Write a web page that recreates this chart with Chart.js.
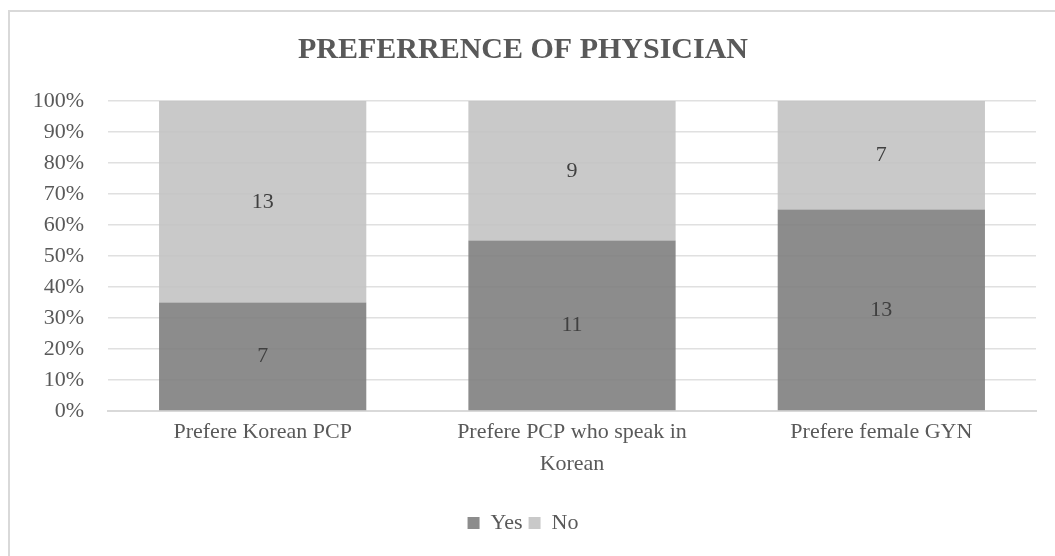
<!DOCTYPE html>
<html lang="en">
<head>
<meta charset="UTF-8">
<title>Preferrence of Physician</title>
<style>
    html, body { margin: 0; padding: 0; background: #fff; }
    #frame {
        position: absolute; left: 8px; top: 10px; width: 1047px; height: 546px;
        border-top: 2px solid #d9d9d9; border-left: 2px solid #d9d9d9;
        box-sizing: border-box;
    }
    #wrap { position: absolute; left: 10px; top: 12px; width: 1045px; height: 544px; }
</style>
</head>
<body>
<div id="frame"></div>
<div id="wrap"><canvas id="grafico"></canvas></div>

<script src="https://cdn.jsdelivr.net/npm/chart.js"></script>
<script>
const categorias = [["Prefere Korean PCP"], ["Prefere PCP who speak in", "Korean"], ["Prefere female GYN"]];
const sim = [7, 11, 13];
const nao = [13, 9, 7];
const ticksY = ["0%", "10%", "20%", "30%", "40%", "50%", "60%", "70%", "80%", "90%", "100%"];

const fonte = "'Liberation Serif', 'DejaVu Serif', serif";

// percentuais para barras 100% empilhadas
const totais = sim.map(function(v, i) { return v + nao[i]; });
const simPct = sim.map(function(v, i) { return v / totais[i] * 100; });
const naoPct = nao.map(function(v, i) { return v / totais[i] * 100; });

// escreve as contagens no meio de cada segmento
const rotulos = {
    id: 'rotulos',
    afterDatasetsDraw(chart) {
        const ctx = chart.ctx;
        const brutos = [sim, nao];
        ctx.save();
        ctx.font = "22px " + fonte;
        ctx.fillStyle = "#404040";
        ctx.textAlign = "center";
        ctx.textBaseline = "middle";
        chart.data.datasets.forEach(function(ds, d) {
            chart.getDatasetMeta(d).data.forEach(function(bar, i) {
                const meio = (bar.y + bar.base) / 2;
                ctx.fillText(String(brutos[d][i]), bar.x, meio);
            });
        });
        ctx.restore();
    }
};

new Chart(document.getElementById('grafico'), {
    type: 'bar',
    data: {
        labels: categorias,
        datasets: [
            {
                label: 'Yes',
                data: simPct,
                backgroundColor: 'rgba(128, 128, 128, 0.9)',
                categoryPercentage: 1,
                barPercentage: 0.67
            },
            {
                label: 'No',
                data: naoPct,
                backgroundColor: 'rgba(195, 195, 195, 0.9)',
                categoryPercentage: 1,
                barPercentage: 0.67
            }
        ]
    },
    options: {
        responsive: true,
        maintainAspectRatio: false,
        animation: false,
        layout: { padding: { left: 0, right: 19, top: 14, bottom: 12 } },
        plugins: {
            title: {
                display: true,
                text: 'PREFERRENCE OF PHYSICIAN',
                color: '#595959',
                font: { family: fonte, size: 30, weight: 'bold' },
                padding: { top: 6, bottom: 33 }
            },
            legend: {
                position: 'bottom',
                labels: {
                    color: '#595959',
                    font: { family: fonte, size: 22 },
                    boxWidth: 12,
                    boxHeight: 12,
                    padding: 6
                }
            },
            tooltip: { enabled: false }
        },
        scales: {
            x: {
                stacked: true,
                grid: { display: false },
                border: { color: '#d9d9d9', width: 2 },
                ticks: {
                    color: '#595959',
                    font: { family: fonte, size: 22, lineHeight: 1.45 },
                    maxRotation: 0,
                    padding: -3
                },
                afterFit: function(axis) { axis.height = 95; }
            },
            y: {
                stacked: true,
                min: 0,
                max: 100,
                afterBuildTicks: function(axis) {
                    axis.ticks = ticksY.map(function(t, i) { return { value: i * 10 }; });
                },
                afterFit: function(axis) { axis.width = 98; },
                ticks: {
                    color: '#595959',
                    font: { family: fonte, size: 22 },
                    padding: 24,
                    callback: function(v) { return ticksY[Math.round(v / 10)]; }
                },
                grid: { color: '#e0e0e0', lineWidth: 1.5, drawTicks: false },
                border: { display: false }
            }
        }
    },
    plugins: [rotulos]
});
</script>
</body>
</html>
